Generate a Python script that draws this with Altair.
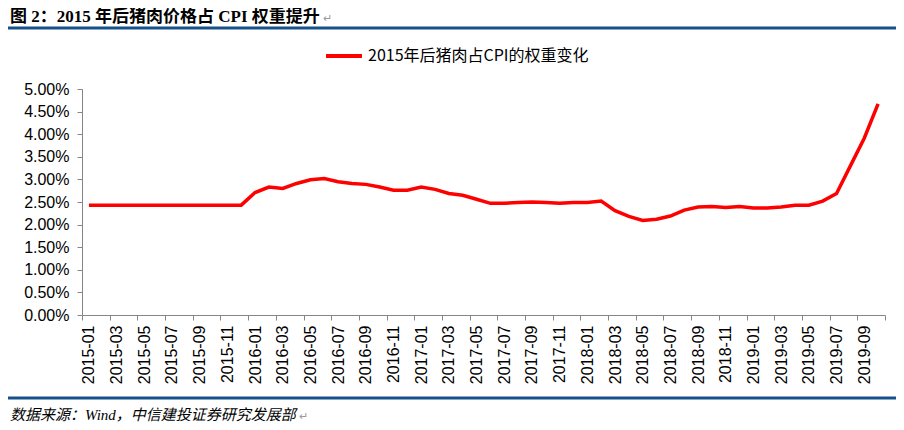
import altair as alt
import pandas as pd

# ---- data ----
months = [f"{y}-{m:02d}" for y in range(2015, 2020) for m in range(1, 13)][:58]
weights = [2.43, 2.43, 2.43, 2.43, 2.43, 2.43, 2.43, 2.43, 2.43, 2.43, 2.43, 2.43,
           2.71, 2.83, 2.80, 2.91, 2.99, 3.02, 2.95, 2.91, 2.89, 2.83, 2.76, 2.76,
           2.83, 2.78, 2.69, 2.65, 2.56, 2.47, 2.47, 2.49, 2.50, 2.49, 2.47, 2.49,
           2.49, 2.52, 2.31, 2.18, 2.09, 2.12, 2.19, 2.32, 2.39, 2.40, 2.38, 2.40,
           2.37, 2.37, 2.39, 2.43, 2.43, 2.52, 2.69, 3.30, 3.91, 4.67]
series_name = "2015年后猪肉占CPI的权重变化"
tick_labels = months[::2]
y_ticks = [0, 0.5, 1, 1.5, 2, 2.5, 3, 3.5, 4, 4.5, 5]

title_text = "图 2：2015 年后猪肉价格占 CPI 权重提升"
source_text = "数据来源：Wind，中信建投证券研究发展部"

df = pd.DataFrame({"idx": list(range(len(months))), "month": months,
                   "w": weights, "series": series_name})

W, H = 803, 226
tick_positions = [-0.5 + 2 * k for k in range(len(tick_labels) + 1)]
label_arr = "[" + ",".join(f"'{t}'" for t in tick_labels) + "]"
label_expr = f"{label_arr}[round((datum.value + 0.5) / 2)] || ''"

line = alt.Chart(df).mark_line(strokeWidth=3.5).encode(
    x=alt.X("idx:Q",
            scale=alt.Scale(domain=[-0.5, len(months) - 0.5], nice=False, zero=False),
            axis=alt.Axis(values=tick_positions, labelExpr=label_expr, title=None,
                          grid=False, labelAngle=270, labelOffset=W / len(months) / 2,
                          labelFont="Liberation Sans", labelFontSize=16, labelColor="#000",
                          labelPadding=5, tickSize=5, tickColor="#868686",
                          domainColor="#868686", labelOverlap=False, labelFlush=False)),
    y=alt.Y("w:Q",
            scale=alt.Scale(domain=[0, 5], nice=False),
            axis=alt.Axis(values=y_ticks, labelExpr="format(datum.value, '.2f') + '%'",
                          title=None, grid=False, labelFont="Liberation Sans",
                          labelFontSize=16, labelColor="#000", labelPadding=8,
                          tickSize=5, tickColor="#868686", domainColor="#868686")),
    color=alt.Color("series:N", scale=alt.Scale(range=["#FF0000"]),
                    legend=alt.Legend(orient="none", legendX=242, legendY=-53, title=None,
                                      symbolType="stroke", symbolSize=1296,
                                      symbolStrokeWidth=4, labelFont="Noto Sans CJK SC",
                                      labelFontSize=16, labelColor="#000", labelOffset=4,
                                      labelLimit=0, padding=0)),
)

dummy = pd.DataFrame({"a": [0]})
top_rule = alt.Chart(dummy).mark_rule(color="#17508A", strokeWidth=2.8).encode(
    x=alt.value(-82), x2=alt.value(830), y=alt.value(-61))
bottom_rule = alt.Chart(dummy).mark_rule(color="#17508A", strokeWidth=2.8).encode(
    x=alt.value(-82), x2=alt.value(830), y=alt.value(309))

title = alt.Chart(pd.DataFrame({"t": [title_text]})).mark_text(
    align="left", baseline="alphabetic", font="Liberation Serif, Noto Sans CJK SC",
    fontSize=17, fontWeight="bold", color="#000").encode(
    x=alt.value(-72), y=alt.value(-67), text="t:N")
title_mark = alt.Chart(pd.DataFrame({"t": ["↵"]})).mark_text(
    align="left", baseline="alphabetic", fontSize=11, color="#999").encode(
    x=alt.value(241), y=alt.value(-67), text="t:N")
source = alt.Chart(pd.DataFrame({"t": [source_text]})).mark_text(
    align="left", baseline="alphabetic", font="Liberation Serif, Noto Sans CJK SC",
    fontSize=15, fontStyle="italic", color="#000").encode(
    x=alt.value(-72), y=alt.value(331), text="t:N")
source_mark = alt.Chart(pd.DataFrame({"t": ["↵"]})).mark_text(
    align="left", baseline="alphabetic", fontSize=11, color="#999").encode(
    x=alt.value(217), y=alt.value(331), text="t:N")

chart = alt.layer(line, top_rule, bottom_rule, title, title_mark, source,
                  source_mark).properties(
    width=W, height=H,
    autosize=alt.AutoSizeParams(type="none"),
    padding={"left": 74, "top": 81, "right": 11, "bottom": 107},
).configure_view(stroke=None)

chart.save("out.html", embed_options={"renderer": "svg", "actions": False})
